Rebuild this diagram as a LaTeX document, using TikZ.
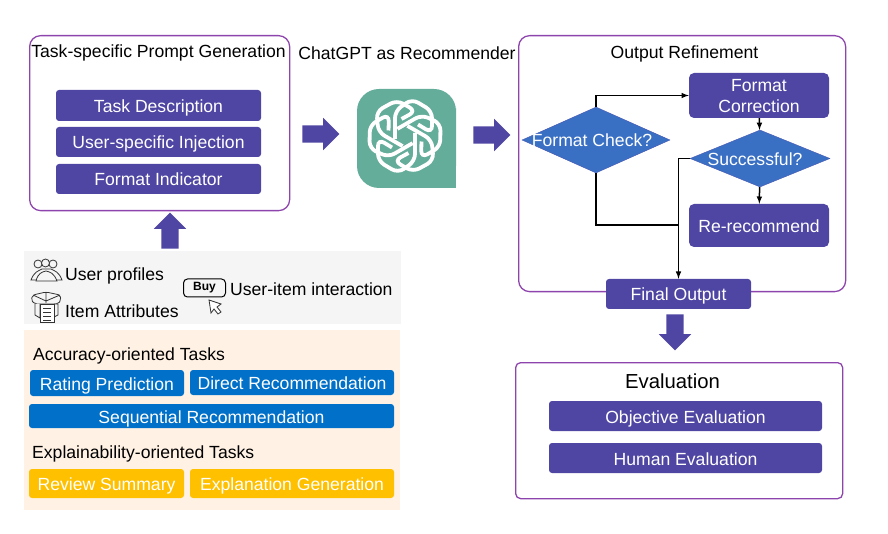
\documentclass[tikz,border=0pt]{standalone}
\usepackage{fontspec}
\setmainfont{Liberation Sans}
\usetikzlibrary{shapes.geometric,shapes.arrows}
\definecolor{boxpurple}{HTML}{4F46A3}
\definecolor{linepurple}{HTML}{8E44AD}
\definecolor{diamondblue}{HTML}{3A70C4}
\definecolor{taskblue}{HTML}{0070C8}
\definecolor{taskyellow}{HTML}{FFC000}
\definecolor{gptgreen}{HTML}{65AD9B}
\tikzset{
    panel/.style={draw=linepurple,line width=1.3pt,rounded corners=11pt,anchor=north west,inner sep=0pt},
    plaintext/.style={font=\fontsize{17.6}{20.5}\selectfont,inner sep=0pt,text height=18pt,text depth=4pt},
    block/.style={plaintext,fill=boxpurple,text=white,rounded corners=3pt,align=center},
    task/.style={block,fill=taskblue},
    yellowtask/.style={block,fill=taskyellow},
    check/.style={plaintext,diamond,aspect=2.2,fill=diamondblue,draw=boxpurple!60!diamondblue,text=white},
    bigarrow/.style={single arrow,fill=boxpurple,inner sep=0pt,inner ysep=8.5pt,single arrow head extend=7.5pt,single arrow tip angle=90},
    flow/.style={->,>=latex,black,line width=1.5pt},
    iconline/.style={line width=.8pt,black!80}
}
\begin{document}
\begin{tikzpicture}[x=1pt,y=-1pt]
    \useasboundingbox(0,0)rectangle(888,534);
    % background panels
    \fill[black!4](24,251)rectangle(401,324);
    \fill[orange!10](24,330)rectangle(400,510);
    \node[panel,minimum width=260pt,minimum height=175pt](promptbox)at(29,35){};
    \node[panel,minimum width=327pt,minimum height=256pt](refinebox)at(518,35){};
    \node[panel,rounded corners=5pt,minimum width=327pt,minimum height=136pt](evalbox)at(515,362){};
    % titles
    \node[plaintext](prompttitle)at(158.5,50.5){Task-specific Prompt Generation};
    \node[plaintext](gpttitle)at(407,52.5){ChatGPT as Recommender};
    \node[plaintext](refinetitle)at(684.5,51.5){Output Refinement};
    \node[plaintext,font=\fontsize{20.3}{24}\selectfont](evaltitle)at(672.5,381){Evaluation};
    \node[plaintext,anchor=west](accuracy)at(33,353){Accuracy-oriented Tasks};
    \node[plaintext,anchor=west](explain)at(32,451){Explainability-oriented Tasks};
    % prompt parts
    \node[block,minimum width=205pt,minimum height=31pt](taskdesc)at(158.5,105.5){Task Description};
    \node[block,minimum width=205pt,minimum height=30pt](inject)at(158.5,142){User-specific Injection};
    \node[block,minimum width=205pt,minimum height=30pt](indicator)at(158.5,179){Format Indicator};
    % chatgpt logo
    \fill[gptgreen,rounded corners=22pt](357,188)--(357,89)--(456,89)--(456,130)--(456,188)--cycle;
    \fill[gptgreen](430,160)rectangle(456,188);
    \foreach \ang in {0,60,...,300}{
        \draw[white,line width=3.8pt,rounded corners=7pt,shift={(405,136)},rotate=\ang]
            (-10,3)--(-10,-25)--(7,-37)--(27,-25)--(27,-3)--(13,-11.5);
    }
    % inputs
    \node[plaintext,anchor=west](profiles)at(65,273.5){User profiles};
    \node[plaintext,anchor=west](attributes)at(65,310){Item Attributes};
    \node[plaintext,anchor=west](interaction)at(230,288.5){User-item interaction};
    \node[draw=black,line width=1pt,rounded corners=4pt,minimum width=42pt,minimum height=18pt,inner sep=0pt,font=\bfseries\fontsize{12}{13}\selectfont](buy)at(204.5,288){Buy};
    % people icon
    \draw[iconline,fill=black!4](31,280)..controls(34,272)and(38,271)..(42,269)--(51,269)..controls(55,271)and(59,272)..(62,280)--cycle;
    \foreach \px/\py in {38/264,53/264,45.5/263}{
        \draw[iconline,fill=black!4](\px,\py)circle(4pt);
    }
    \draw[iconline,fill=black!4](36,281)..controls(38,273)and(42,272)..(46,271)..controls(50,272)and(54,273)..(57,281)--cycle;
    % box icon
    \draw[iconline,fill=black!4,rounded corners=2pt](31,300)--(33,295)--(46,292)--(60,295)--(61,300)--(58,304)--(35,304)--cycle;
    \draw[iconline](33,295)--(46,301)--(60,295)(46,292)--(46,303);
    \draw[iconline,fill=black!4](35,304)--(35,315)--(40,318)--(40,304);
    \draw[iconline,fill=black!4](54,304)--(58,304)--(58,315)--(54,317);
    \draw[iconline,fill=white](40,304)rectangle(54,322);
    \foreach \ly in {308,312,316,320}{
        \draw[iconline,line width=.6pt](43,\ly)--(51,\ly);
    }
    % cursor icon
    \draw[iconline,fill=white](209,300)--(221,304)--(217,307)--(221,312)--(218,314)--(214,309)--(211,313)--cycle;
    % task chips
    \node[task,minimum width=154pt,minimum height=26pt](rating)at(107,383){Rating Prediction};
    \node[task,minimum width=204pt,minimum height=25pt](direct)at(292,382.5){Direct Recommendation};
    \node[task,minimum width=365pt,minimum height=24pt](sequential)at(211.5,416){Sequential Recommendation};
    \node[yellowtask,minimum width=155pt,minimum height=29pt](review)at(106.5,483.5){Review Summary};
    \node[yellowtask,minimum width=204pt,minimum height=29pt](explanation)at(292,483.5){Explanation Generation};
    % refinement
    \node[check,minimum width=148pt,minimum height=66pt](formatcheck)at(596,140){\makebox[0pt]{Format Check?\kern8pt}};
    \node[block,minimum width=140pt,minimum height=45pt,rounded corners=5pt,text height=38pt](correction)at(759,95.5){Format\\Correction};
    \node[check,minimum width=140pt,minimum height=57pt](success)at(760,158.5){\makebox[0pt]{Successful?\kern10pt}};
    \node[block,minimum width=140pt,minimum height=43pt,rounded corners=5pt](rerec)at(759,225.5){Re-recommend};
    \node[block,minimum width=145pt,minimum height=30pt](final)at(678.5,294){Final Output};
    \coordinate(merge)at(final.north|-0,225);
    \draw[flow](formatcheck.north)|-(correction.west);
    \draw[flow](correction)--(success);
    \draw[flow](success)--(rerec);
    \draw[flow](success.west)-|(final.north);
    \draw[flow,-](formatcheck.south)|-(merge);
    % evaluation
    \node[block,minimum width=273pt,minimum height=30pt](objective)at(685.5,416){Objective Evaluation};
    \node[block,minimum width=273pt,minimum height=30pt](human)at(685.5,458){Human Evaluation};
    % big arrows
    \node[bigarrow,minimum height=37pt](arrowa)at(316.5,134){};
    \node[bigarrow,minimum height=37pt](arrowb)at(487.5,135){};
    \node[bigarrow,minimum height=36pt,rotate=90](arrowc)at(170,235){};
    \node[bigarrow,minimum height=36pt,rotate=-90](arrowd)at(675,328){};
\end{tikzpicture}
\end{document}
